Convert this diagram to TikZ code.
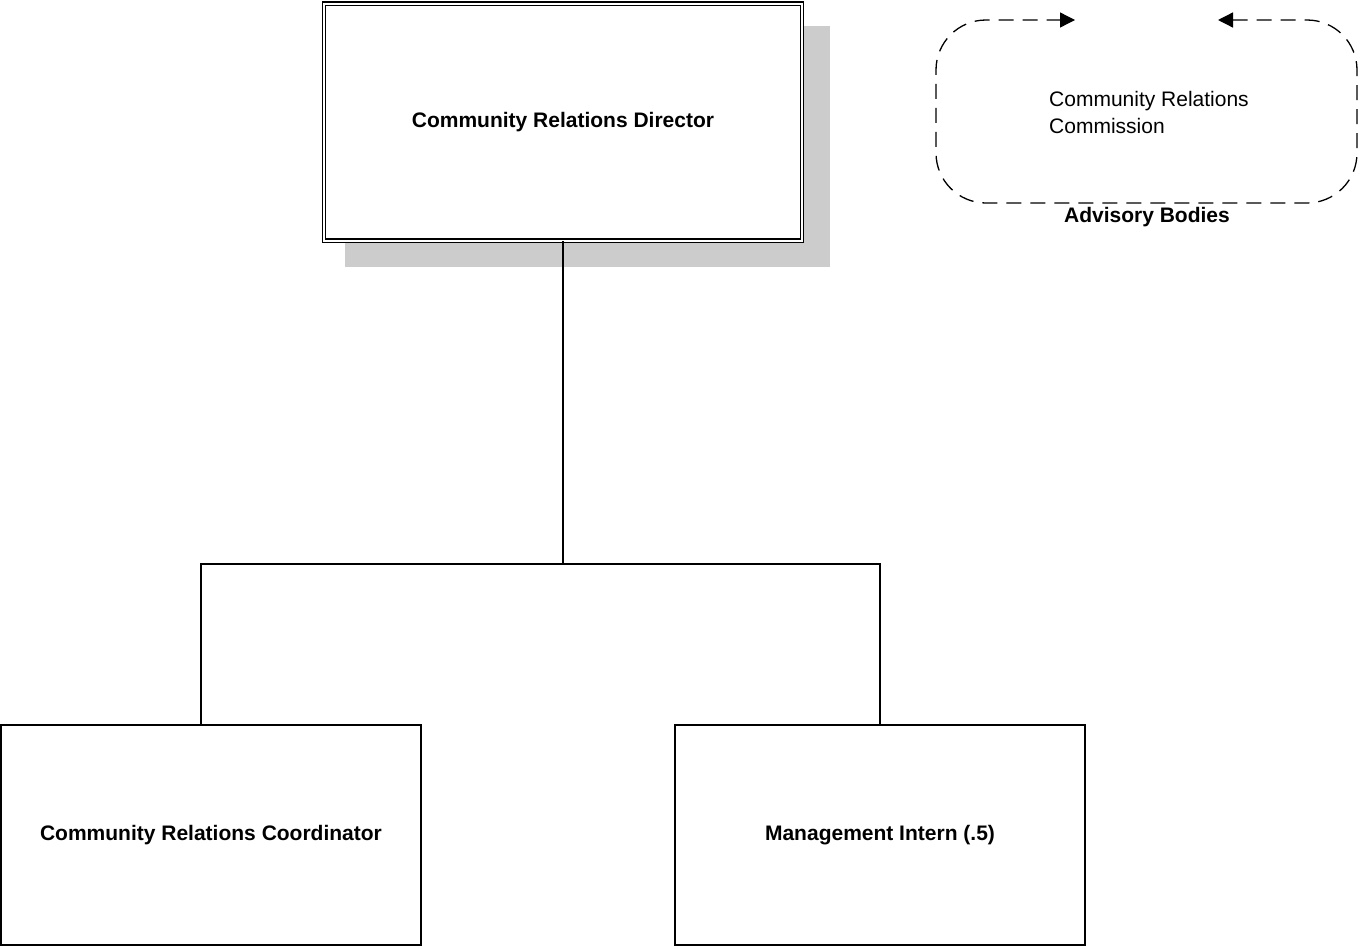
\documentclass[tikz,border=0pt]{standalone}
\usepackage{fontspec}
\setmainfont{Liberation Sans}
\usetikzlibrary{shadows,arrows.meta}
\newcommand{\orgsize}{\fontsize{21}{27}\selectfont}
\tikzset{
  post/.style={draw,line width=1.7pt,minimum width=#1,minimum height=220pt,inner sep=0pt,font=\orgsize\bfseries},
  link/.style={line width=1.7pt},
}
\begin{document}
\begin{tikzpicture}[>={Triangle[length=15pt,width=15pt]},x=1pt,y=-1pt,font=\orgsize]
		\useasboundingbox (0,0) rectangle (1368,948);
		\node[post=478pt,minimum height=237pt,line width=1.3pt,double,double distance=2pt,fill=white,
			drop shadow={shadow xshift=24pt,shadow yshift=-24pt,shadow scale=1.015,fill=black!20,opacity=1}] (dir) at (563,122) {Community Relations Director};
		\node[post=420pt] (coord) at (211,835) {Community Relations Coordinator};
		\node[post=410pt] (intern) at (880,835) {Management Intern (.5)};
		\coordinate (bus) at (dir.south |- 0,564);
		\draw[link] (dir.south)--(bus);
		\draw[link] ([xshift=-10pt]coord.north) |- (bus) -| (intern.north);
		\node[anchor=west,align=left,inner sep=0pt] (crc) at (1049,112) {Community Relations\\Commission};
		\node[font=\orgsize\bfseries,inner sep=0pt] (adv) at (1147,217) {Advisory Bodies};
		\draw[<->,line width=1.3pt,dash pattern=on 15pt off 9pt,rounded corners=50pt] (1218,20) -| (1357,203) -| (936,20) -- (1075,20);
	\end{tikzpicture}
\end{document}
